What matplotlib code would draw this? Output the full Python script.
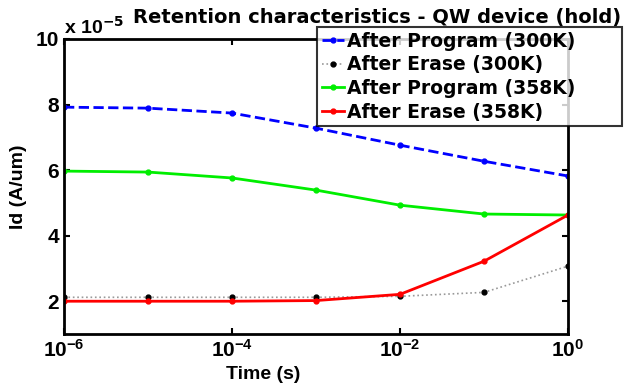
import matplotlib.pyplot as plt
from matplotlib.ticker import FuncFormatter, FixedLocator, NullLocator

plt.rcParams['font.family'] = ['Liberation Sans', 'DejaVu Sans']
plt.rcParams['font.weight'] = 'bold'

time_s = [1e-6, 1e-5, 1e-4, 1e-3, 1e-2, 1e-1, 1.0]
prog_300 = [7.92e-5, 7.89e-5, 7.74e-5, 7.28e-5, 6.76e-5, 6.27e-5, 5.82e-5]
erase_300 = [2.12e-5, 2.12e-5, 2.12e-5, 2.12e-5, 2.15e-5, 2.27e-5, 3.07e-5]
prog_358 = [5.97e-5, 5.94e-5, 5.76e-5, 5.39e-5, 4.93e-5, 4.66e-5, 4.63e-5]
erase_358 = [2.00e-5, 2.00e-5, 2.00e-5, 2.02e-5, 2.21e-5, 3.22e-5, 4.63e-5]
labels = ["After Program (300K)", "After Erase (300K)",
          "After Program (358K)", "After Erase (358K)"]

fig = plt.figure(figsize=(6.25, 3.86), dpi=100)
ax = fig.add_axes([0.1024, 0.1347, 0.8064, 0.7643])

ax.plot(time_s, prog_300, color='#0000ff', linestyle='--', linewidth=2,
        marker='o', markersize=3.5, label=labels[0])
ax.plot(time_s, erase_300, color='#999999', linestyle=':', linewidth=1.2,
        marker='o', markersize=3.5, markerfacecolor='black', markeredgecolor='black',
        label=labels[1])
ax.plot(time_s, prog_358, color='#00ee00', linestyle='-', linewidth=2,
        marker='o', markersize=3.5, label=labels[2])
ax.plot(time_s, erase_358, color='#ff0000', linestyle='-', linewidth=2,
        marker='o', markersize=3.5, label=labels[3])

ax.set_xscale('log')
ax.set_xlim(1e-6, 1)
ax.set_ylim(1e-5, 10e-5)
ax.xaxis.set_major_locator(FixedLocator([1e-6, 1e-4, 1e-2, 1]))
ax.xaxis.set_minor_locator(NullLocator())
ax.set_yticks([2e-5, 4e-5, 6e-5, 8e-5, 10e-5])
ax.yaxis.set_major_formatter(FuncFormatter(lambda v, p: "%d" % round(v * 1e5)))
ax.tick_params(direction='in', top=True, right=True, labelsize=15, width=1.5, length=4)
for s in ax.spines.values():
    s.set_linewidth(2)

ax.set_xlabel("Time (s)", fontsize=14, fontweight='bold')
ax.xaxis.set_label_coords(0.395, -0.11)
ax.set_ylabel("Id (A/um)", fontsize=14, fontweight='bold', labelpad=6)

# title sits right of centre in the original, in a wide bold face
fig.text(0.603, 0.940, "Retention characteristics - QW device (hold)",
         family='DejaVu Sans', fontsize=14, fontweight='bold',
         ha='center', va='baseline')
ax.text(0.0, 1.005, "x 10$^{\\mathbf{-5}}$", transform=ax.transAxes,
        fontsize=14, fontweight='bold', ha='left', va='bottom')

leg = ax.legend(loc='upper left', bbox_to_anchor=(0.502, 1.041, 0.605, 0.0),
                mode='expand',
                prop={'family': 'DejaVu Sans', 'weight': 'bold', 'size': 13.5},
                frameon=True, fancybox=False, edgecolor='black',
                handlelength=1.2, handletextpad=0.15, borderpad=0.25,
                labelspacing=0.25, borderaxespad=0)
leg.get_frame().set_linewidth(1.5)
leg.set_zorder(5)

fig.savefig("out.png", dpi=100)
